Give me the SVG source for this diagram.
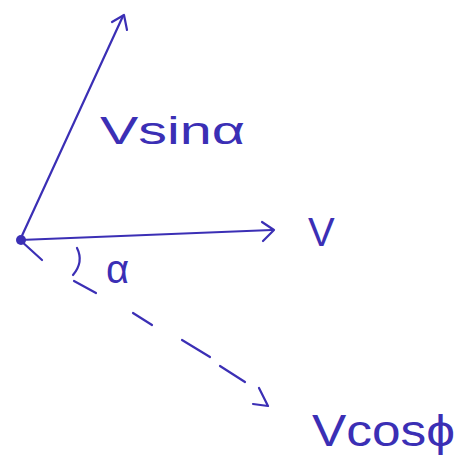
<svg xmlns="http://www.w3.org/2000/svg" width="471" height="468" viewBox="0 0 471 468">
<style>
.ln{stroke:#3b2fb5;stroke-width:2.2;fill:none;stroke-linecap:round;stroke-linejoin:round}
.t{fill:#3b2fb5;font-family:"Liberation Sans","DejaVu Sans",sans-serif}
</style>
<rect width="471" height="468" fill="#ffffff"/>
<g id="connectors">
<path class="ln" d="M20 240 L123 16"/>
<path class="ln" d="M112 22 L124 15 L127 30"/>
<path class="ln" d="M20 240 L272 230"/>
<path class="ln" d="M262 222 L274 230 L263 241"/>
<path class="ln" d="M20 240 L42 260"/>
<path class="ln" d="M74 281 L96 293 M133 313 L152 325 M182 340 L210 357 M220 366 L245 382" />
<path class="ln" d="M253 404 L268 406 L259 388"/>
<path class="ln" d="M77 248 Q84 262 73 275"/>
</g>
<g id="origin"><circle cx="21" cy="240" r="5" fill="#3b2fb5"/></g>
<g id="label-vsin"><text class="t" x="100" y="144" font-size="38" textLength="145" lengthAdjust="spacingAndGlyphs">Vsinα</text></g>
<g id="label-v"><text class="t" x="308" y="246" font-size="40">V</text></g>
<g id="label-alpha"><text class="t" x="106" y="283" font-size="40">α</text></g>
<g id="label-vcos"><text class="t" x="312" y="446" font-size="44" textLength="143" lengthAdjust="spacingAndGlyphs">Vcosϕ</text></g>
</svg>
